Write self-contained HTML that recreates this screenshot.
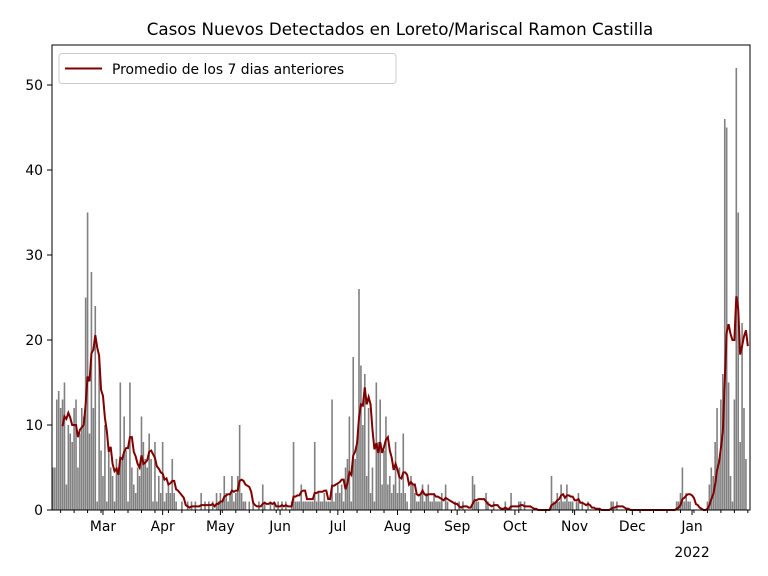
<!DOCTYPE html>
<html><head><meta charset="utf-8"><style>
body{margin:0;background:#fff}
svg{display:block;font-family:"DejaVu Sans","Liberation Sans",sans-serif}
</style></head><body>
<svg id="s" width="768" height="576" viewBox="0 0 768 576" xmlns="http://www.w3.org/2000/svg">
<rect width="768" height="576" fill="#fff"/>
<text x="400" y="35" font-size="16.7" text-anchor="middle">Casos Nuevos Detectados en Loreto/Mariscal Ramon Castilla</text>
<g id="bars" fill="#808080"></g>
<polyline id="avg" fill="none" stroke="#800000" stroke-width="2"/>
<rect x="52" y="45" width="698" height="465" fill="none" stroke="#000" stroke-width="1"/>
<g id="ticks" stroke="#000" stroke-width="1"></g>
<g id="labels" font-size="13.9" fill="#000"></g>
<g>
<rect x="59" y="53.5" width="337" height="30" rx="3" fill="#fff" fill-opacity="0.8" stroke="#ccc"/>
<line x1="65" y1="68.5" x2="102" y2="68.5" stroke="#800000" stroke-width="2"/>
<text x="112" y="74" font-size="13.9">Promedio de los 7 dias anteriores</text>
</g>
</svg>
<script>
var d=[];
d=d.concat([7,5,5,13,14,12,13,15,3,10,9,8,12,13,5,9,12,11,25,35,9,28,12,24,1,18,7]);
d=d.concat([4,10,1,7,5,4,1,6,5,15,6,11,7,1,15,5,3,2,5,4,11,8,6,5,9,6,1,8,1,4,2]);
d=d.concat([8,1,2,3,2,6,2,1,0,0,1,0,0,1,0,1,0,1,0,0,2,0,1,0,1,0,1,0,2,1]);
d=d.concat([2,1,4,2,1,2,4,1,2,4,10,2,1,1,0,1,0,1,0,0,1,0,3,1,0,0,1,0,1,0,1]);
d=d.concat([0,1,0,1,0,0,1,8,1,1,1,3,1,1,1,1,1,1,8,1,2,1,1,2,1,1,1,13,1,2]);
d=d.concat([3,2,3,1,5,6,11,1,18,6,8,26,17,10,16,4,12,2,5,1,15,8,13,3,7,11,3,4,2,3,8]);
d=d.concat([2,5,2,9,2,1,0,4,3,2,1,1,2,3,1,2,3,1,1,2,1,1,1,2,0,3,1,0,0,0,1]);
d=d.concat([0,1,0,1,0,0,0,0,4,3,1,1,0,0,0,2,1,0,0,1,0,0,0,0,0,1,0,0,2,0]);
d=d.concat([0,0,1,1,0,1,0,0,0,0,0,0,0,0,0,0,0,0,0,4,1,1,2,1,3,1,1,3,1,1,1]);
d=d.concat([0,1,2,0,1,0,0,1,0,0,0,0,0,0,0,0,0,0,0,1,1,0,1,0,0,0,0,0,0,0]);
d=d.concat([0,0,0,0,0,0,0,0,0,0,0,0,0,0,0,0,0,0,0,0,0,0,0,1,1,2,5,1,2,1,1]);
d=d.concat([0,0,0,0,0,0,0,0,1,3,5,4,8,12,6,13,16,46,45,15,4,1,13,52,35,8,22,12,6,0]);
var X=function(i){return 51+i*1.925},Y=function(v){return 510-v*8.5};
var b=document.getElementById('bars'),h='';
for(var i=0;i<d.length;i++){if(d[i]>0){var x=Math.max(52,X(i)-0.8),w=Math.min(X(i)+0.8,750)-x;h+='<rect x="'+x.toFixed(2)+'" y="'+Y(d[i])+'" width="'+w.toFixed(2)+'" height="'+(d[i]*8.5)+'"/>';}}
b.innerHTML=h;
var p=[];for(var i=6;i<d.length;i++){var s=0;for(var k=i-6;k<=i;k++)s+=d[k];p.push(X(i).toFixed(2)+','+Y(s/7).toFixed(2));}
document.getElementById('avg').setAttribute('points',p.join(' '));
var t='',l='';
for(var v=0;v<=50;v+=10){var y=Y(v);t+='<line x1="47" y1="'+y+'" x2="52" y2="'+y+'"/>';l+='<text x="43" y="'+(y+5)+'" text-anchor="end">'+v+'</text>';}
var m=[[27,'Mar'],[58,'Apr'],[88,'May'],[119,'Jun'],[149,'Jul'],[180,'Aug'],[211,'Sep'],[241,'Oct'],[272,'Nov'],[302,'Dec'],[333,'Jan']];
m.forEach(function(a){var x=X(a[0]);t+='<line x1="'+x+'" y1="510" x2="'+x+'" y2="515"/>';l+='<text x="'+x+'" y="531" text-anchor="middle">'+a[1]+'</text>';});
l+='<text x="'+X(333)+'" y="557" text-anchor="middle">2022</text>';
for(var i=5;i<d.length+1;i+=7){var x=X(i);t+='<line x1="'+x+'" y1="510" x2="'+x+'" y2="513"/>';}
document.getElementById('ticks').innerHTML=t;document.getElementById('labels').innerHTML=l;
</script>
</body></html>
